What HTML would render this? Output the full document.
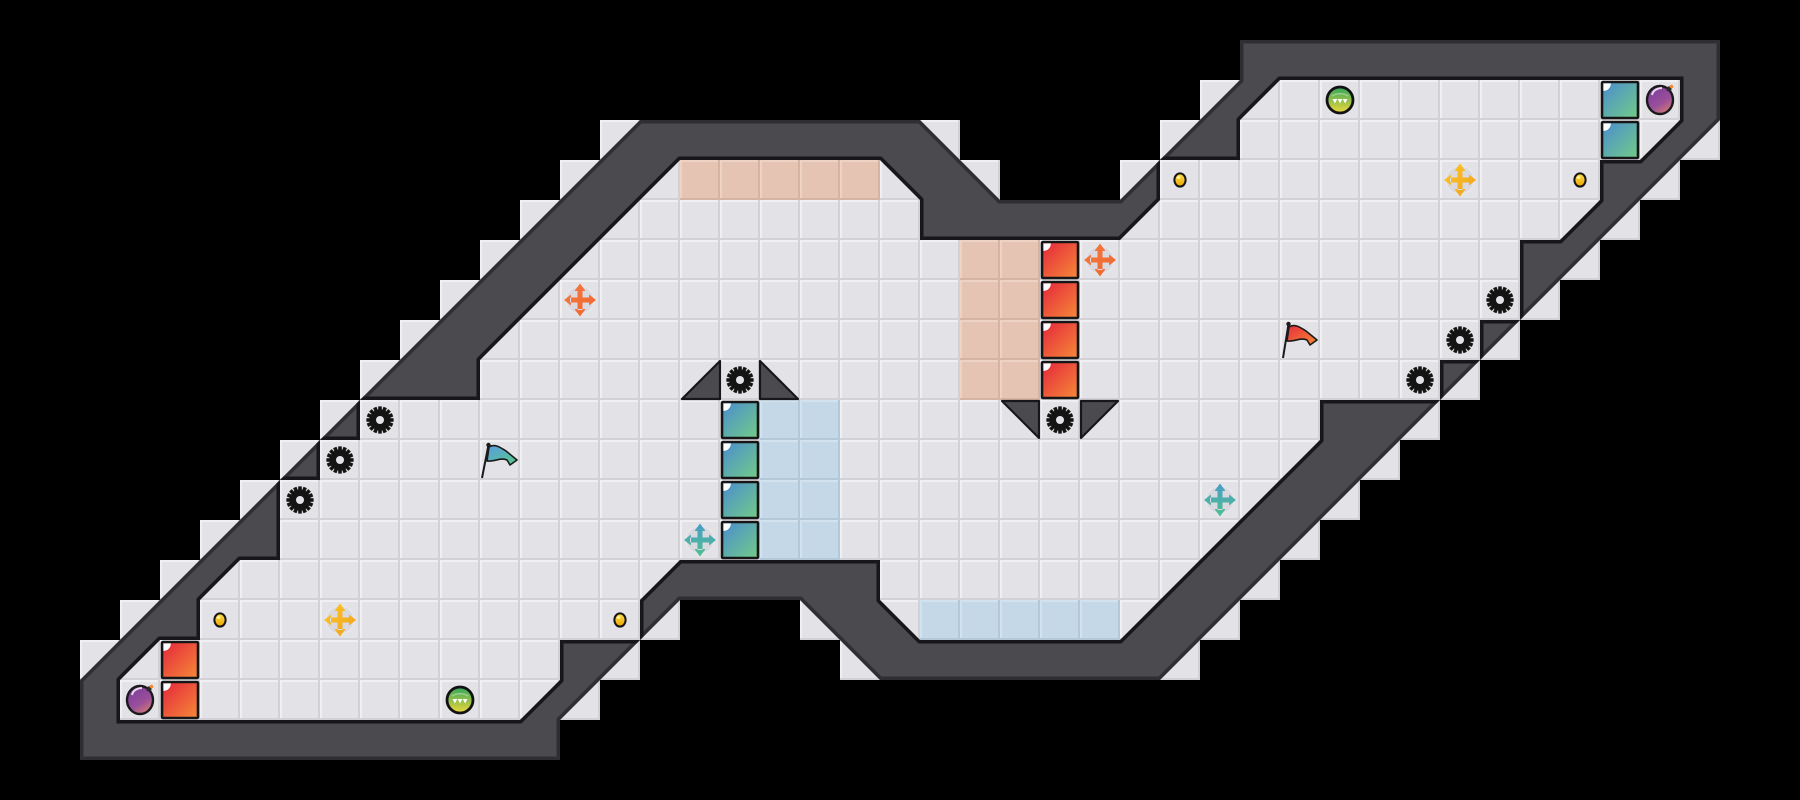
<!DOCTYPE html>
<html>
<head>
<meta charset="utf-8">
<style>
html,body{margin:0;padding:0;background:#000;width:1800px;height:800px;overflow:hidden}
svg{display:block}
</style>
</head>
<body>
<svg width="1800" height="800" viewBox="0 0 1800 800" xmlns="http://www.w3.org/2000/svg" xmlns:xlink="http://www.w3.org/1999/xlink">
<defs>
  <pattern id="pf" width="40" height="40" patternUnits="userSpaceOnUse">
    <rect width="40" height="40" fill="#e3e3e7"/>
    <rect width="40" height="2" fill="#f0f0f3"/>
    <rect width="2" height="40" fill="#f0f0f3"/>
    <rect y="38" width="40" height="2" fill="#d1d1d6"/>
    <rect x="38" width="2" height="40" fill="#d1d1d6"/>
  </pattern>
  <pattern id="pp" width="40" height="40" patternUnits="userSpaceOnUse">
    <rect width="40" height="40" fill="#e6c4b3"/>
    <rect width="40" height="2" fill="#eed2c4"/>
    <rect width="2" height="40" fill="#eed2c4"/>
    <rect y="38" width="40" height="2" fill="#d6b3a2"/>
    <rect x="38" width="2" height="40" fill="#d6b3a2"/>
  </pattern>
  <pattern id="pb" width="40" height="40" patternUnits="userSpaceOnUse">
    <rect width="40" height="40" fill="#c4d8e7"/>
    <rect width="40" height="2" fill="#d2e2ee"/>
    <rect width="2" height="40" fill="#d2e2ee"/>
    <rect y="38" width="40" height="2" fill="#b3c8d9"/>
    <rect x="38" width="2" height="40" fill="#b3c8d9"/>
  </pattern>
  <linearGradient id="redG" x1="0" y1="0" x2="1" y2="1">
    <stop offset="0" stop-color="#e4253c"/><stop offset="1" stop-color="#f68a38"/>
  </linearGradient>
  <linearGradient id="tealG" x1="0" y1="0" x2="1" y2="1">
    <stop offset="0" stop-color="#4a8cd0"/><stop offset="1" stop-color="#72cc88"/>
  </linearGradient>
  <linearGradient id="bombG" x1="0.2" y1="0" x2="0.8" y2="1">
    <stop offset="0" stop-color="#7a3c9c"/><stop offset="0.6" stop-color="#9a4f9a"/><stop offset="1" stop-color="#d88070"/>
  </linearGradient>
  <linearGradient id="greenG" x1="0" y1="0" x2="0" y2="1">
    <stop offset="0" stop-color="#2fa65c"/><stop offset="1" stop-color="#f0d83a"/>
  </linearGradient>
  <linearGradient id="yelG" x1="0" y1="0" x2="0" y2="1">
    <stop offset="0" stop-color="#ffe04a"/><stop offset="1" stop-color="#eea400"/>
  </linearGradient>
  <linearGradient id="crossY" x1="0" y1="0" x2="1" y2="1">
    <stop offset="0" stop-color="#fbc82a"/><stop offset="1" stop-color="#f2a018"/>
  </linearGradient>
  <linearGradient id="crossO" x1="0" y1="0" x2="1" y2="1">
    <stop offset="0" stop-color="#f47a42"/><stop offset="1" stop-color="#f0652c"/>
  </linearGradient>
  <linearGradient id="crossT" x1="0" y1="0" x2="0" y2="1">
    <stop offset="0" stop-color="#4a9cc8"/><stop offset="1" stop-color="#4fc08e"/>
  </linearGradient>
  <linearGradient id="flagB" x1="0" y1="0" x2="1" y2="1">
    <stop offset="0" stop-color="#5a9ee0"/><stop offset="1" stop-color="#55c88a"/>
  </linearGradient>
  <linearGradient id="flagR" x1="0" y1="0" x2="1" y2="1">
    <stop offset="0" stop-color="#e82c40"/><stop offset="1" stop-color="#f48a30"/>
  </linearGradient>

  <g id="gear">
    <circle r="10.5" fill="#141414"/>
    <g fill="#141414">
      <rect x="-1.8" y="-13.6" width="3.6" height="27.2"/>
      <rect x="-1.8" y="-13.6" width="3.6" height="27.2" transform="rotate(22.5)"/>
      <rect x="-1.8" y="-13.6" width="3.6" height="27.2" transform="rotate(45)"/>
      <rect x="-1.8" y="-13.6" width="3.6" height="27.2" transform="rotate(67.5)"/>
      <rect x="-1.8" y="-13.6" width="3.6" height="27.2" transform="rotate(90)"/>
      <rect x="-1.8" y="-13.6" width="3.6" height="27.2" transform="rotate(112.5)"/>
      <rect x="-1.8" y="-13.6" width="3.6" height="27.2" transform="rotate(135)"/>
      <rect x="-1.8" y="-13.6" width="3.6" height="27.2" transform="rotate(157.5)"/>
    </g>
    <circle r="4" fill="#e3e3e7"/>
  </g>

  <g id="cross">
    <circle r="14" fill="#d2d2d9" fill-opacity="0.55" stroke="#f4f4f6" stroke-opacity="0.6" stroke-width="1"/>
    <path d="M-2.5,-10 H2.5 V-2.5 H10 V2.5 H2.5 V10 H-2.5 V2.5 H-10 V-2.5 H-2.5 Z M0,-16.5 L5.5,-9 L-5.5,-9 Z M0,16.5 L5.5,9 L-5.5,9 Z M-16,0 L-9,5.5 L-9,-5.5 Z M16,0 L9,5.5 L9,-5.5 Z"/>
  </g>

  <g id="rtile">
    <rect x="2" y="2" width="36" height="36" rx="1" fill="url(#redG)" stroke="#161616" stroke-width="2.6"/>
    <path d="M3.4,3.4 h7.5 a7.5,7.5 0 0 1 -7.5,7.5 z" fill="#ffffff"/>
  </g>
  <g id="ttile">
    <rect x="2" y="2" width="36" height="36" rx="1" fill="url(#tealG)" stroke="#161616" stroke-width="2.6"/>
    <path d="M3.4,3.4 h7.5 a7.5,7.5 0 0 1 -7.5,7.5 z" fill="#ffffff"/>
  </g>

  <g id="ydot">
    <ellipse rx="5.6" ry="6.6" fill="url(#yelG)" stroke="#151515" stroke-width="2"/>
    <ellipse cx="-1.5" cy="-2.5" rx="1.8" ry="1.3" fill="#fff6c0"/>
  </g>

  <g id="gball">
    <circle r="13" fill="url(#greenG)" stroke="#111" stroke-width="2.8"/>
    <path d="M-8,-4 C-4,-7 4,-7 8,-4" fill="none" stroke="#ffffff" stroke-opacity="0.35" stroke-width="1.5"/>
    <path d="M-7.5,-1 L-2.7,-1 L-5.1,3.5 Z M-2.4,-1 L2.4,-1 L0,3.5 Z M2.7,-1 L7.5,-1 L5.1,3.5 Z" fill="#ffffff"/>
  </g>

  <g id="bomb">
    <ellipse cx="0" cy="1" rx="13" ry="14" fill="url(#bombG)" stroke="#1a1a1a" stroke-width="2.4"/>
    <path d="M-8,-4 C-7,-9 -2,-11 2,-11" fill="none" stroke="#ffffff" stroke-opacity="0.8" stroke-width="2"/>
    <circle cx="9" cy="-10" r="2.6" fill="#2a2a2a"/>
    <circle cx="11.5" cy="-12.5" r="1.8" fill="#f08a30"/>
  </g>
</defs>

<!-- background -->
<rect width="1800" height="800" fill="#000"/>

<!-- floor cells -->
<g fill="url(#pf)">
  <rect x="1200" y="80" width="480" height="40"/>
  <rect x="600" y="120" width="360" height="40"/>
  <rect x="1160" y="120" width="560" height="40"/>
  <rect x="560" y="160" width="440" height="40"/>
  <rect x="1120" y="160" width="560" height="40"/>
  <rect x="520" y="200" width="1120" height="40"/>
  <rect x="480" y="240" width="1120" height="40"/>
  <rect x="440" y="280" width="1120" height="40"/>
  <rect x="400" y="320" width="1120" height="40"/>
  <rect x="360" y="360" width="1120" height="40"/>
  <rect x="320" y="400" width="1120" height="40"/>
  <rect x="280" y="440" width="1120" height="40"/>
  <rect x="240" y="480" width="1120" height="40"/>
  <rect x="200" y="520" width="1120" height="40"/>
  <rect x="160" y="560" width="1120" height="40"/>
  <rect x="120" y="600" width="560" height="40"/>
  <rect x="800" y="600" width="440" height="40"/>
  <rect x="80" y="640" width="560" height="40"/>
  <rect x="840" y="640" width="360" height="40"/>
  <rect x="80" y="680" width="520" height="40"/>
</g>

<!-- coloured zones -->
<rect x="680" y="160" width="200" height="40" fill="url(#pp)"/>
<rect x="960" y="240" width="80" height="160" fill="url(#pp)"/>
<rect x="760" y="400" width="80" height="160" fill="url(#pb)"/>
<rect x="920" y="600" width="200" height="40" fill="url(#pb)"/>

<!-- walls -->
<clipPath id="wc">
  <path clip-rule="evenodd" d="M80,760 L560,760 L560,720 L680,600 L800,600 L880,680 L1160,680 L1720,120 L1720,40 L1240,40 L1240,80 L1120,200 L1000,200 L920,120 L640,120 L80,680 Z M120,720 L120,680 L160,640 L200,640 L200,600 L240,560 L280,560 L280,480 L320,480 L320,440 L360,440 L360,400 L480,400 L480,360 L680,160 L880,160 L920,200 L920,240 L1120,240 L1160,200 L1160,160 L1240,160 L1240,120 L1280,80 L1680,80 L1680,120 L1640,160 L1600,160 L1600,200 L1560,240 L1520,240 L1520,320 L1480,320 L1480,360 L1440,360 L1440,400 L1320,400 L1320,440 L1120,640 L920,640 L880,600 L880,560 L680,560 L640,600 L640,640 L560,640 L560,680 L520,720 Z"/>
</clipPath>
<path fill="#4a4a4f" fill-rule="evenodd" d="M80,760 L560,760 L560,720 L680,600 L800,600 L880,680 L1160,680 L1720,120 L1720,40 L1240,40 L1240,80 L1120,200 L1000,200 L920,120 L640,120 L80,680 Z M120,720 L120,680 L160,640 L200,640 L200,600 L240,560 L280,560 L280,480 L320,480 L320,440 L360,440 L360,400 L480,400 L480,360 L680,160 L880,160 L920,200 L920,240 L1120,240 L1160,200 L1160,160 L1240,160 L1240,120 L1280,80 L1680,80 L1680,120 L1640,160 L1600,160 L1600,200 L1560,240 L1520,240 L1520,320 L1480,320 L1480,360 L1440,360 L1440,400 L1320,400 L1320,440 L1120,640 L920,640 L880,600 L880,560 L680,560 L640,600 L640,640 L560,640 L560,680 L520,720 Z"/>
<path clip-path="url(#wc)" fill="none" stroke="#2e2e33" stroke-width="7" stroke-linejoin="miter" d="M80,760 L560,760 L560,720 L680,600 L800,600 L880,680 L1160,680 L1720,120 L1720,40 L1240,40 L1240,80 L1120,200 L1000,200 L920,120 L640,120 L80,680 Z"/>
<path clip-path="url(#wc)" fill="none" stroke="#17171a" stroke-width="7" stroke-linejoin="miter" d="M120,720 L120,680 L160,640 L200,640 L200,600 L240,560 L280,560 L280,480 L320,480 L320,440 L360,440 L360,400 L480,400 L480,360 L680,160 L880,160 L920,200 L920,240 L1120,240 L1160,200 L1160,160 L1240,160 L1240,120 L1280,80 L1680,80 L1680,120 L1640,160 L1600,160 L1600,200 L1560,240 L1520,240 L1520,320 L1480,320 L1480,360 L1440,360 L1440,400 L1320,400 L1320,440 L1120,640 L920,640 L880,600 L880,560 L680,560 L640,600 L640,640 L560,640 L560,680 L520,720 Z"/>

<!-- interior wedges -->
<g fill="#4a4a4f" stroke="#17171a" stroke-width="2.2" stroke-linejoin="round">
  <polygon points="720,361 720,399 682,399"/>
  <polygon points="760,361 760,399 798,399"/>
  <polygon points="1002,401 1039,401 1039,438"/>
  <polygon points="1081,401 1118,401 1081,438"/>
</g>

<!-- red blocks -->
<use href="#rtile" xlink:href="#rtile" transform="translate(160,640)"/>
<use href="#rtile" xlink:href="#rtile" transform="translate(160,680)"/>
<use href="#rtile" xlink:href="#rtile" transform="translate(1040,240)"/>
<use href="#rtile" xlink:href="#rtile" transform="translate(1040,280)"/>
<use href="#rtile" xlink:href="#rtile" transform="translate(1040,320)"/>
<use href="#rtile" xlink:href="#rtile" transform="translate(1040,360)"/>

<!-- teal blocks -->
<use href="#ttile" xlink:href="#ttile" transform="translate(720,400)"/>
<use href="#ttile" xlink:href="#ttile" transform="translate(720,440)"/>
<use href="#ttile" xlink:href="#ttile" transform="translate(720,480)"/>
<use href="#ttile" xlink:href="#ttile" transform="translate(720,520)"/>
<use href="#ttile" xlink:href="#ttile" transform="translate(1600,80)"/>
<use href="#ttile" xlink:href="#ttile" transform="translate(1600,120)"/>

<!-- gears -->
<use href="#gear" xlink:href="#gear" transform="translate(380,420)"/>
<use href="#gear" xlink:href="#gear" transform="translate(340,460)"/>
<use href="#gear" xlink:href="#gear" transform="translate(300,500)"/>
<use href="#gear" xlink:href="#gear" transform="translate(740,380)"/>
<use href="#gear" xlink:href="#gear" transform="translate(1060,420)"/>
<use href="#gear" xlink:href="#gear" transform="translate(1500,300)"/>
<use href="#gear" xlink:href="#gear" transform="translate(1460,340)"/>
<use href="#gear" xlink:href="#gear" transform="translate(1420,380)"/>

<!-- coins -->
<use href="#ydot" xlink:href="#ydot" transform="translate(220,620)"/>
<use href="#ydot" xlink:href="#ydot" transform="translate(620,620)"/>
<use href="#ydot" xlink:href="#ydot" transform="translate(1180,180)"/>
<use href="#ydot" xlink:href="#ydot" transform="translate(1580,180)"/>

<!-- move crosses -->
<use href="#cross" xlink:href="#cross" fill="url(#crossY)" transform="translate(340,620)"/>
<use href="#cross" xlink:href="#cross" fill="url(#crossY)" transform="translate(1460,180)"/>
<use href="#cross" xlink:href="#cross" fill="url(#crossO)" transform="translate(580,300)"/>
<use href="#cross" xlink:href="#cross" fill="url(#crossO)" transform="translate(1100,260)"/>
<use href="#cross" xlink:href="#cross" fill="url(#crossT)" transform="translate(700,540)"/>
<use href="#cross" xlink:href="#cross" fill="url(#crossT)" transform="translate(1220,500)"/>

<!-- green balls -->
<use href="#gball" xlink:href="#gball" transform="translate(460,700)"/>
<use href="#gball" xlink:href="#gball" transform="translate(1340,100)"/>

<!-- bombs -->
<use href="#bomb" xlink:href="#bomb" transform="translate(140,699)"/>
<use href="#bomb" xlink:href="#bomb" transform="translate(1660,99)"/>

<!-- blue flag -->
<g transform="translate(480,440)">
  <path d="M9,7 C15,3 21,8 26,11 L37,20 L30,25 L27,20 C21,17 14,22 7,21 Z" fill="url(#flagB)" stroke="#1a1a1a" stroke-width="1.6" stroke-linejoin="round"/>
  <line x1="2" y1="38" x2="8.5" y2="5" stroke="#1a1a1a" stroke-width="2"/>
  <circle cx="8.5" cy="5" r="2.2" fill="#1a1a1a"/>
</g>

<!-- red flag -->
<g transform="translate(1280,320)">
  <path d="M9,7 C15,3 21,8 26,11 L37,20 L30,25 L27,20 C21,17 14,22 7,21 Z" fill="url(#flagR)" stroke="#1a1a1a" stroke-width="1.6" stroke-linejoin="round"/>
  <line x1="3" y1="38" x2="8.5" y2="4" stroke="#1a1a1a" stroke-width="2"/>
  <circle cx="8.5" cy="4" r="2.2" fill="#1a1a1a"/>
</g>
</svg>
</body>
</html>
